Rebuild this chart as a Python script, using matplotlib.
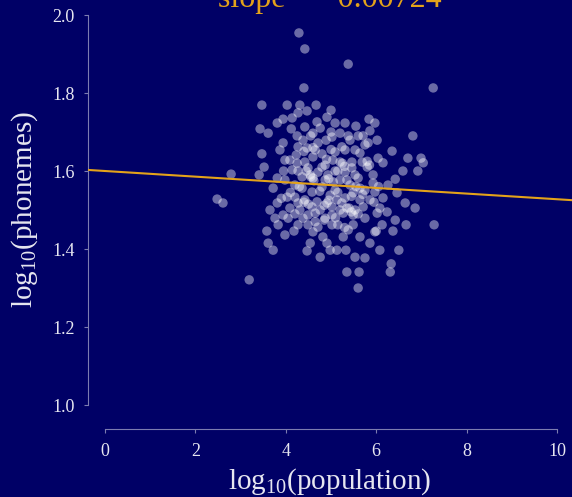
import matplotlib
matplotlib.use('Agg')
import matplotlib.pyplot as plt
import numpy as np

# log10(population), log10(phonemes)
log_pop = [
    4.29, 4.42, 5.38, 4.40, 7.26, 3.47, 4.03, 4.31, 4.67, 4.47,
    5.00, 5.84, 4.91, 4.27, 4.14, 3.94, 3.81, 4.42, 4.69, 5.09,
    5.31, 5.55, 5.97, 3.43, 3.61, 4.12, 4.25, 4.60, 5.02, 5.20,
    5.86, 5.71, 5.38, 6.02, 5.82, 6.81, 3.94, 4.27, 4.47, 4.65,
    4.80, 5.09, 5.24, 5.31, 5.53, 5.64, 6.35, 3.47, 4.42, 4.60,
    4.87, 5.04, 5.20, 5.46, 5.69, 6.04, 6.15, 6.70, 6.99, 7.04,
    3.52, 4.14, 4.27, 4.49, 4.80, 5.09, 5.46, 5.80, 6.59, 6.92,
    2.79, 3.41, 3.81, 4.36, 4.60, 4.87, 5.20, 5.35, 5.60, 5.93,
    5.93, 6.42, 3.72, 4.36, 4.80, 5.09, 5.49, 5.75, 5.97, 6.46,
    4.03, 4.20, 4.42, 4.69, 4.91, 5.13, 5.31, 5.64, 6.15, 2.48,
    2.61, 3.81, 4.27, 4.58, 5.02, 5.24, 5.35, 5.53, 5.71, 6.64,
    6.86, 3.76, 3.94, 4.05, 4.38, 4.65, 4.87, 5.02, 5.27, 5.49,
    5.75, 6.02, 3.83, 4.49, 4.71, 5.02, 5.49, 6.13, 6.66, 7.28,
    3.58, 4.18, 4.60, 4.82, 5.27, 5.38, 5.97, 6.37, 5.64, 3.61,
    4.54, 4.91, 5.86, 3.72, 4.47, 5.13, 5.33, 6.08, 6.50, 5.53,
    6.33, 6.31, 5.35, 5.62, 5.60, 3.19, 4.85, 6.00, 4.09, 4.23,
    4.71, 4.89, 4.54, 4.71, 4.93, 5.31, 4.98, 4.58, 4.20, 3.98,
    5.20, 4.76, 4.31, 5.42, 5.64, 5.53, 4.09, 4.49, 3.98, 3.87,
    4.38, 4.76, 5.42, 5.75, 5.86, 6.08, 5.15, 4.27, 6.26, 6.24,
    6.42, 3.65, 3.98, 4.98, 4.76, 5.75,
    4.55, 4.62, 4.95, 5.05, 4.40, 4.50, 4.85, 4.95, 5.25, 5.30,
    5.40, 5.45, 5.60, 5.80, 5.85, 4.30, 4.75, 5.15, 5.00, 4.60,
    4.40, 5.55, 5.70, 4.10, 4.20, 4.65, 5.10, 5.30, 4.90, 5.15,
    4.45, 4.25, 5.60, 5.00, 4.55, 5.95, 6.05, 3.90, 3.95, 5.45,
]
log_phon = [
    1.954, 1.913, 1.874, 1.813, 1.813, 1.769, 1.769, 1.769, 1.769, 1.754,
    1.756, 1.733, 1.738, 1.749, 1.736, 1.733, 1.723, 1.713, 1.726, 1.723,
    1.723, 1.715, 1.723, 1.708, 1.697, 1.708, 1.690, 1.697, 1.687, 1.697,
    1.703, 1.690, 1.690, 1.679, 1.672, 1.690, 1.672, 1.662, 1.659, 1.654,
    1.644, 1.649, 1.662, 1.654, 1.654, 1.646, 1.651, 1.644, 1.623, 1.636,
    1.615, 1.628, 1.623, 1.623, 1.623, 1.633, 1.621, 1.633, 1.633, 1.621,
    1.610, 1.603, 1.600, 1.608, 1.610, 1.600, 1.608, 1.610, 1.600, 1.600,
    1.592, 1.590, 1.582, 1.585, 1.582, 1.577, 1.577, 1.577, 1.582, 1.590,
    1.569, 1.579, 1.556, 1.556, 1.559, 1.551, 1.544, 1.551, 1.546, 1.544,
    1.533, 1.533, 1.526, 1.521, 1.518, 1.526, 1.531, 1.526, 1.531, 1.528,
    1.518, 1.518, 1.518, 1.508, 1.508, 1.518, 1.505, 1.500, 1.508, 1.518,
    1.505, 1.479, 1.487, 1.479, 1.479, 1.492, 1.479, 1.487, 1.492, 1.487,
    1.479, 1.492, 1.462, 1.462, 1.456, 1.462, 1.462, 1.462, 1.462, 1.462,
    1.446, 1.446, 1.444, 1.431, 1.431, 1.449, 1.444, 1.446, 1.431, 1.415,
    1.415, 1.415, 1.415, 1.397, 1.395, 1.397, 1.397, 1.397, 1.397, 1.379,
    1.362, 1.341, 1.341, 1.341, 1.300, 1.321, 1.474, 1.446, 1.628, 1.641,
    1.672, 1.679, 1.590, 1.597, 1.590, 1.597, 1.538, 1.546, 1.564, 1.577,
    1.500, 1.500, 1.500, 1.564, 1.556, 1.590, 1.505, 1.487, 1.628, 1.654,
    1.679, 1.710, 1.679, 1.667, 1.526, 1.505, 1.462, 1.462, 1.564, 1.495,
    1.474, 1.500, 1.436, 1.397, 1.379, 1.377,
    1.585, 1.575, 1.580, 1.572, 1.520, 1.515, 1.512, 1.525, 1.620, 1.612,
    1.505, 1.495, 1.490, 1.625, 1.615, 1.560, 1.548, 1.545, 1.655, 1.660,
    1.650, 1.560, 1.540, 1.545, 1.490, 1.470, 1.480, 1.455, 1.630, 1.600,
    1.600, 1.620, 1.690, 1.700, 1.690, 1.520, 1.560, 1.530, 1.600, 1.535,
]
slope = -0.00724
intercept = 1.600
x_ticks = [0, 2, 4, 6, 8, 10]
y_ticks = [1.0, 1.2, 1.4, 1.6, 1.8, 2.0]

bg = '#000066'
gold = '#e3a21a'
axis_col = '#7c7cb0'
text_col = '#e6e6f0'

plt.rcParams['font.family'] = ['Liberation Serif', 'DejaVu Serif']
plt.rcParams['mathtext.fontset'] = 'custom'
plt.rcParams['mathtext.rm'] = 'Liberation Serif'

fig = plt.figure(figsize=(5.72, 4.97), dpi=100, facecolor=bg)
ax = fig.add_axes([88 / 572, 92 / 497, 484 / 572, 390 / 497])
ax.set_facecolor(bg)

ax.scatter(log_pop, log_phon, s=46, c='white', alpha=0.42, edgecolors='none', zorder=2)

xlim = (-0.376, 10.33)
xs = np.array(xlim)
ax.plot(xs, intercept + slope * xs, color=gold, lw=1.5, zorder=3)

ax.set_xlim(*xlim)
ax.set_ylim(1.0, 2.0)
ax.set_xticks(x_ticks)
ax.set_yticks(y_ticks)
ax.set_yticklabels(['%.1f' % v for v in y_ticks])

for side in ['top', 'right']:
    ax.spines[side].set_visible(False)
ax.spines['bottom'].set_position(('outward', 17))
ax.spines['bottom'].set_bounds(0, 10)
ax.spines['left'].set_bounds(1.0, 2.0)
for side in ['bottom', 'left']:
    ax.spines[side].set_color(axis_col)
    ax.spines[side].set_linewidth(0.8)

ax.tick_params(colors=axis_col, length=3, width=0.8, labelsize=13, labelcolor=text_col)
ax.tick_params(axis='y', pad=6.5)
ax.tick_params(axis='x', pad=7)

ax.set_xlabel('log$_{\\mathregular{10}}$(population)', fontsize=21, color=text_col, labelpad=5)
ax.set_ylabel('log$_{\\mathregular{10}}$(phonemes)', fontsize=21, color=text_col, labelpad=9)
# title sits partly above the canvas, as in the reference
ax.set_title('slope = \u22120.00724', fontsize=23, color=gold, pad=6)

fig.savefig('out.png', dpi=100, facecolor=bg)
